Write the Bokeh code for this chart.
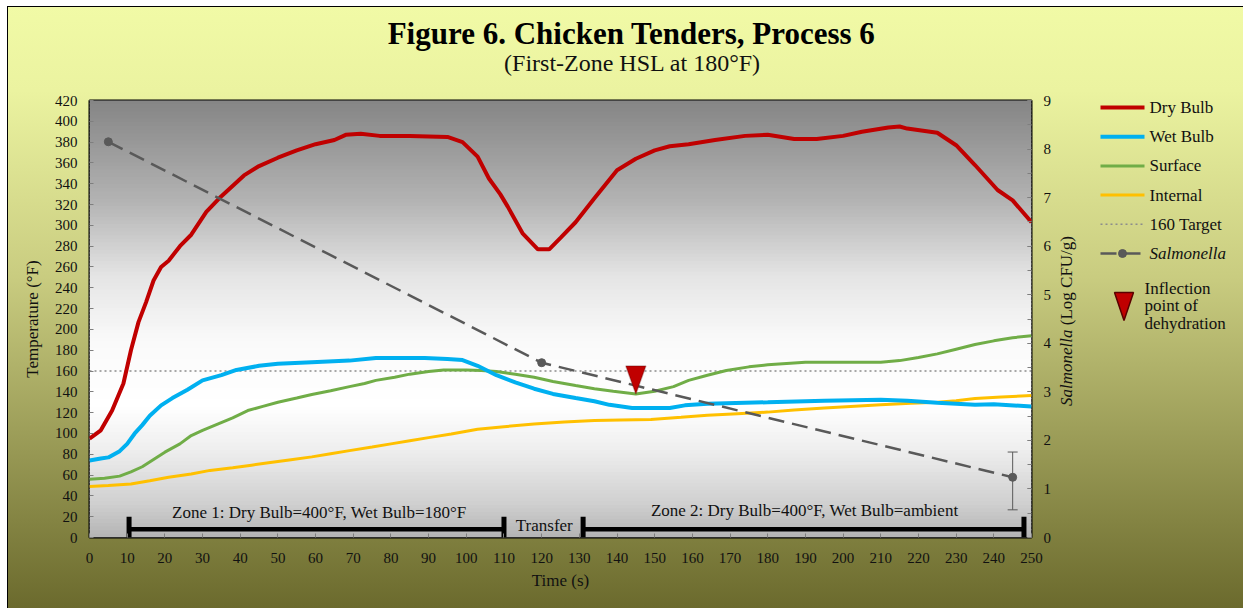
import numpy as np
from bokeh.plotting import figure
from bokeh.layouts import column, row
from bokeh.models import (Range1d, LinearAxis, PolyAnnotation, SingleIntervalTicker)
from bokeh.embed import file_html
from bokeh.resources import INLINE
from bokeh.core.properties import value

# ---------------- data ----------------
dry_t = [0, 3, 6, 9, 11, 13, 15, 17, 19, 21, 24, 27, 31, 35, 41, 45, 50, 55, 60, 65, 68, 72, 77, 85, 95,
         99, 103, 106, 109, 111, 115, 119, 122, 125, 129, 134, 140, 145, 150, 154, 159, 166, 174, 180, 187,
         193, 200, 205, 212, 215, 217, 225, 230, 235, 241, 245, 250]
dry_bulb = [95, 103, 122, 148, 180, 207, 226, 247, 260, 266, 280, 291, 313, 328, 348, 357, 365, 372, 378, 382,
            387, 388, 386, 386, 385, 380, 366, 345, 330, 318, 292, 277, 277, 288, 303, 326, 353, 364, 372, 376,
            378, 382, 386, 387, 383, 383, 386, 390, 394, 395, 393, 389, 377, 358, 334, 324, 303]

wet_t = [0, 3, 5, 8, 10, 12, 14, 16, 19, 22, 26, 30, 35, 39, 45, 50, 59, 69, 76, 89, 95, 99, 103, 108, 113,
         118, 123, 129, 134, 138, 144, 154, 158, 164, 180, 195, 210, 217, 225, 235, 240, 250]
wet_bulb = [74, 76, 77, 83, 90, 100, 108, 117, 127, 134, 142, 151, 156, 161, 165, 167, 168.5, 170, 172.5,
            172.5, 171.5, 170.5, 165, 156, 149, 143, 138, 134, 131, 127.5, 124.5, 124.5, 127, 128.5, 130,
            131.5, 132.5, 131.5, 129.5, 127.5, 128, 126]

surf_t = [0, 4, 8, 11, 14, 17, 20, 24, 27, 30, 34, 38, 42, 46, 50, 55, 59, 64, 69, 73, 76, 81, 85, 90, 94,
          100, 104, 108, 113, 118, 123, 129, 134, 139, 145, 150, 155, 159, 164, 169, 175, 180, 190, 200, 210,
          215, 220, 225, 230, 235, 240, 245, 250]
surface = [56, 57, 59, 63, 68, 75, 82, 90, 98, 103, 109, 115, 122, 126, 130, 134, 137.5, 141, 145, 148, 151,
           154, 157, 159.5, 161, 161, 160.5, 159.5, 157, 154, 150, 146, 143, 140.5, 138, 140.5, 145, 151, 156,
           160.5, 164, 166, 168.5, 168.5, 168.5, 170, 173, 176.5, 181, 185.5, 189, 192, 194]

int_t = [0, 5, 11, 16, 21, 27, 32, 38, 43, 48, 53, 59, 64, 69, 75, 80, 85, 90, 96, 103, 110, 118, 126, 134,
         141, 149, 157, 164, 172, 180, 187, 195, 202, 210, 218, 225, 230, 235, 242, 250]
internal = [49, 50, 51.5, 54.5, 58, 61, 64.5, 67, 69.5, 72, 74.5, 77.5, 80.5, 83.5, 87, 90, 93, 96, 99.5,
            104, 106.5, 109, 111, 112.5, 113, 113.5, 115.5, 117.5, 119, 120.5, 122.5, 124.5, 126, 127.5, 129,
            130, 131.5, 133.5, 135, 136.5]

target_temp = 160

salm_t = [5, 120, 245]
salmonella = [8.15, 3.6, 1.24]
salm_err_t = [245]
salm_err_low = [0.57]
salm_err_high = [1.76]

inflect_t = 145
inflect_temp = 138

zone_start = [10.5, 131]
zone_end = [110, 248]
zone_bar_temp = 8
zone_cap_temp = 20
zone_labels = ["Zone 1: Dry Bulb=400°F, Wet Bulb=180°F", "Transfer", "Zone 2: Dry Bulb=400°F, Wet Bulb=ambient"]
zone_label_t = [61, 120.7, 189.8]
zone_label_temp = [24, 11.5, 26]

legend_labels = ["Dry Bulb", "Wet Bulb", "Surface", "Internal", "160 Target", "Salmonella"]
inflect_lines = ["Inflection", "point of", "dehydration"]
title_text = "Figure 6. Chicken Tenders, Process 6"
subtitle_text = "(First-Zone HSL at 180°F)"

x_max, temp_max, log_max = 250, 420, 9

# ---------------- styles / layout (page pixels) ----------------
SERIF = "Liberation Serif"
TXT = "#111111"
C_DRY, C_WET, C_SURF, C_INT = "#c00000", "#00b0f0", "#70ad47", "#ffc000"
C_TGT, C_SALM = "#8c8c8c", "#595959"
OX, OY = 7, 6                      # chart box origin on the page
W_ALL, H_ALL = 1236, 602
H_TITLE = 84
W_MAIN = 1048
H_MAIN = H_ALL - H_TITLE
W_LEG = W_ALL - W_MAIN
ML, MR, MT = 82, 24, 10
FW, FH = 942, 437
MB = H_MAIN - MT - FH
px_x, px_y = FW / x_max, FH / temp_max
FRAME_TOP = OY + H_TITLE + MT
FRAME_BOT = FRAME_TOP + FH


def blank(w, h, xr, yr):
    f = figure(width=w, height=h, output_backend="svg", toolbar_location=None, tools="",
               x_axis_type=None, y_axis_type=None, x_range=xr, y_range=yr,
               min_border=0, min_border_left=0, min_border_right=0, min_border_top=0, min_border_bottom=0,
               title=None)
    f.border_fill_color = None
    f.background_fill_color = None
    f.outline_line_color = None
    f.xgrid.visible = False
    f.ygrid.visible = False
    return f


# ---------------- title (page coordinates) ----------------
pt = blank(W_ALL, H_TITLE, Range1d(OX, OX + W_ALL), Range1d(OY + H_TITLE, OY))
pt.text(x=[631], y=[33], text=[title_text], text_font=value(SERIF), text_font_size="31px",
        text_font_style="bold", text_align="center", text_baseline="middle", text_color="#000000")
pt.text(x=[632], y=[62.5], text=[subtitle_text], text_font=value(SERIF), text_font_size="24px",
        text_align="center", text_baseline="middle", text_color=TXT)

# ---------------- main chart ----------------
p = figure(width=W_MAIN, height=H_MAIN, output_backend="svg", toolbar_location=None, tools="", title=None,
           x_range=Range1d(0, x_max), y_range=Range1d(0, temp_max),
           min_border_left=ML, min_border_right=MR, min_border_top=MT, min_border_bottom=MB)
p.extra_y_ranges = {"salm": Range1d(0, log_max)}
p.border_fill_color = None
p.background_fill_color = None
p.outline_line_color = "black"
p.outline_line_width = 2
p.xgrid.visible = False
p.ygrid.visible = False

stops = [(0.0, "#858585"), (0.23, "#b3b3b3"), (0.40, "#e4e4e4"), (0.55, "#fafafa"), (0.70, "#ffffff"),
         (0.80, "#eeeeee"), (0.92, "#d0d0d0"), (1.0, "#b3b3b3")]


def hex2rgb(h):
    return np.array([int(h[i:i + 2], 16) for i in (1, 3, 5)], dtype=float)


def grad(f):
    for (f0, c0), (f1, c1) in zip(stops[:-1], stops[1:]):
        if f0 <= f <= f1:
            t = (f - f0) / (f1 - f0)
            c = hex2rgb(c0) * (1 - t) + hex2rgb(c1) * t
            return "#%02x%02x%02x" % tuple(int(round(v)) for v in c)
    return stops[-1][1]


n = 120
edges = np.linspace(0, temp_max, n + 1)
cols = [grad(1 - (edges[i] + edges[i + 1]) / 2 / temp_max) for i in range(n)]
p.quad(left=0, right=x_max, bottom=edges[:-1], top=edges[1:] + temp_max / n * 0.3,
       fill_color=cols, line_color=None)

for ax in (p.xaxis[0], p.yaxis[0]):
    ax.axis_line_color = None
    ax.major_tick_in = 4
    ax.major_tick_out = 0
    ax.minor_tick_line_color = None
    ax.major_tick_line_color = "#7f7f7f"
    ax.major_label_text_font = SERIF
    ax.major_label_text_font_size = "15px"
    ax.major_label_text_color = TXT
    ax.axis_label_text_font = SERIF
    ax.axis_label_text_font_size = "17px"
    ax.axis_label_text_font_style = "normal"
    ax.axis_label_text_color = TXT

p.xaxis[0].ticker = SingleIntervalTicker(interval=10, num_minor_ticks=0)
p.xaxis[0].axis_label = "Time (s)"
p.xaxis[0].major_label_standoff = 15
p.xaxis[0].axis_label_standoff = 5
p.yaxis[0].ticker = SingleIntervalTicker(interval=20, num_minor_ticks=0)
p.yaxis[0].axis_label = "Temperature (°F)"
p.yaxis[0].major_label_standoff = 12
p.yaxis[0].axis_label_standoff = 10

ra = LinearAxis(y_range_name="salm", ticker=SingleIntervalTicker(interval=1, num_minor_ticks=2))
ra.axis_line_color = None
ra.major_tick_in = 4
ra.major_tick_out = 0
ra.minor_tick_in = 4
ra.minor_tick_out = 0
ra.major_tick_line_color = "#7f7f7f"
ra.minor_tick_line_color = "#7f7f7f"
ra.major_label_text_font = SERIF
ra.major_label_text_font_size = "15px"
ra.major_label_text_color = TXT
ra.major_label_standoff = 12
p.add_layout(ra, "right")

p.line(x=[0, x_max], y=[target_temp, target_temp], line_color=C_TGT, line_width=1.5, line_dash="2 3")
p.line(int_t, internal, line_color=C_INT, line_width=3)
p.line(surf_t, surface, line_color=C_SURF, line_width=3)
p.line(wet_t, wet_bulb, line_color=C_WET, line_width=4)
p.line(dry_t, dry_bulb, line_color=C_DRY, line_width=4)
p.line(salm_t, salmonella, y_range_name="salm", line_color=C_SALM, line_width=2.5, line_dash="16 8")
p.scatter(salm_t, salmonella, y_range_name="salm", size=8, fill_color=C_SALM, line_color=C_SALM)

# error bar
cap_hw = 5 / px_x
p.segment(x0=salm_err_t, y0=salm_err_low, x1=salm_err_t, y1=salm_err_high, y_range_name="salm",
          line_color=C_SALM, line_width=1)
cap_x0 = [t - cap_hw for t in salm_err_t] * 2
cap_x1 = [t + cap_hw for t in salm_err_t] * 2
cap_y = salm_err_low + salm_err_high
p.segment(x0=cap_x0, y0=cap_y, x1=cap_x1, y1=cap_y, y_range_name="salm", line_color=C_SALM, line_width=1)

# zone bars
p.segment(x0=zone_start, y0=zone_bar_temp, x1=zone_end, y1=zone_bar_temp, line_color="black", line_width=4.5)
caps = zone_start + zone_end
p.segment(x0=caps, y0=0, x1=caps, y1=zone_cap_temp, line_color="black", line_width=5)
p.text(x=zone_label_t, y=zone_label_temp, text=zone_labels, text_font=value(SERIF), text_font_size="17px",
       text_align="center", text_baseline="middle", text_color=TXT)

# inflection triangle
tri_hw, tri_h = 10 / px_x, 28 / px_y
p.add_layout(PolyAnnotation(xs=[inflect_t - tri_hw, inflect_t + tri_hw, inflect_t],
                            ys=[inflect_temp + tri_h, inflect_temp + tri_h, inflect_temp],
                            fill_color=C_DRY, fill_alpha=1, line_color="#5a0000", line_width=1.5))

# ---------------- legend panel (page coordinates; its frame is aligned with the main frame) ----------------
X0_LEG = OX + W_MAIN
pl = blank(W_LEG, H_MAIN, Range1d(X0_LEG, X0_LEG + W_LEG), Range1d(FRAME_BOT, FRAME_TOP))
ax_x, ax_join = 1066, 329
pl.text(x=[ax_x], y=[ax_join], text=["Salmonella"], angle=np.pi / 2, text_font=value(SERIF),
        text_font_size="17px", text_font_style="italic", text_align="right", text_baseline="middle",
        text_color=TXT)
pl.text(x=[ax_x], y=[ax_join], text=["\u00a0(Log CFU/g)"], angle=np.pi / 2, text_font=value(SERIF),
        text_font_size="17px", text_align="left", text_baseline="middle", text_color=TXT)

gx0, gx1, lx = 1100, 1144, 1149
row0, pitch = 107, 29.2
rows = [row0 + i * pitch for i in range(len(legend_labels))]
line_styles = [dict(line_color=C_DRY, line_width=4), dict(line_color=C_WET, line_width=4),
               dict(line_color=C_SURF, line_width=3), dict(line_color=C_INT, line_width=3),
               dict(line_color=C_TGT, line_width=1.5, line_dash="2 3"),
               dict(line_color=C_SALM, line_width=2.5, line_dash="16 8")]
for yy, st in zip(rows, line_styles):
    pl.line(x=[gx0, gx1], y=[yy, yy], **st)
pl.scatter(x=[(gx0 + gx1) / 2], y=[rows[5]], size=8, fill_color=C_SALM, line_color=C_SALM)
pl.text(x=[lx] * 5, y=rows[:5], text=legend_labels[:5], text_font=value(SERIF), text_font_size="17px",
        text_baseline="middle", text_color=TXT)
pl.text(x=[lx], y=[rows[5]], text=[legend_labels[5]], text_font=value(SERIF), text_font_size="17px",
        text_font_style="italic", text_baseline="middle", text_color=TXT)

tcx, ttop, tw, th = 1123.5, 292, 19, 28
pl.patch(x=[tcx - tw / 2, tcx + tw / 2, tcx], y=[ttop, ttop, ttop + th], fill_color=C_DRY,
         line_color="#5a0000", line_width=1.5)
pl.text(x=[1144] * 3, y=[287.5 + i * 17.5 for i in range(3)], text=inflect_lines, text_font=value(SERIF),
        text_font_size="17px", text_baseline="middle", text_color=TXT)

layout = column(pt, row(p, pl, spacing=0), spacing=0)
layout.styles = {
    "background": "linear-gradient(to bottom, #f1faa6 0%, #ebf3a0 14%, #c9cc80 45%, #6b6a2d 100%)",
    "box-shadow": "inset 1px 1px 0 0 #000000",
    "margin-left": "%dpx" % OX,
    "margin-top": "%dpx" % OY,
}

open("out.html", "w").write(file_html(layout, INLINE))
